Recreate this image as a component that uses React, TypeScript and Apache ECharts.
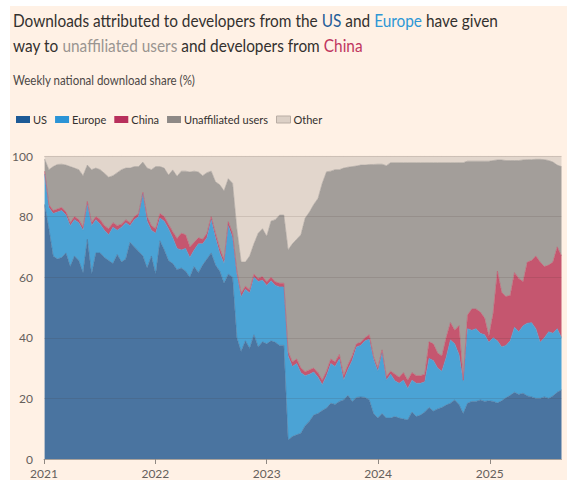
import React, { useEffect, useRef } from "react";
import * as echarts from "echarts";

// Sample dates: every two weeks from 3 Jan 2021
const START_UTC = Date.UTC(2021, 0, 3);
const STEP_DAYS = 14;

const usShare = [84,76,67,66,66.5,68,63.5,67,65.5,61.5, 72.5,61,68,68,66.5,65.5,64.5,67.5,65,66, 71.5,70,68.5,67,63,67,61,72,69,65.5, 64.5,62.5,63,62,60,63.5,61.5,64,66,68, 64,62,58,61,60,40,35.5,39,36.5,41, 37,38.7,38,39,38.5,37.5,37.5,6.3,7.4,8, 8.5,11,12.5,14.5,15,16,16.8,18.4,18,19, 19.5,21,19,20.3,20.5,20.3,19.5,15,13.5,15, 13.5,13.5,14,13.5,13.2,12.9,15.5,14,14.5,15.5, 17,15.8,16.5,17,17.8,18.4,19.5,18,15,18.4, 19,19,19.5,19,19.2,19,18.5,19.2,20.2,21, 22,21.3,21.7,20.8,20.5,20,20,20.5,20,20.8, 22,22.8];
const europeShare = [10,7,14,15.5,15.5,12.5,13.5,12,12.5,14, 11.5,16,11,9.5,9,8.5,12,8,11.5,12, 5.5,9,11.5,20.5,15.5,8.5,13.5,7.5,9.5,10.5, 8.5,7,6,7.5,6.5,5.5,9.5,7,7,11, 9,6,6.5,16,13,21,18,17,18.3,19, 21.6,20.3,19.3,19.8,18.8,19.3,19.3,27.7,23.1,23.5, 20,16.5,15.5,14.2,12,8.5,10.7,13.1,12.5,14, 6.5,8.5,13.5,16.7,17,18.7,20,18,15.5,20, 12.5,14.5,11.8,11.5,12.8,10.4,10.5,11,10.5,10, 16.2,16.7,13.5,12,15.7,20.9,18.5,16.5,10.5,24.6, 23.5,24,22,22,19.3,21,20.5,17.8,17.3,18, 21.5,20.7,22.3,24,24.5,23,18.5,19.5,22,20.7, 21,17.2];
const chinaShare = [1,1,1,1,1,1,1,1,1,1, 1,1,1,1.5,1.5,2,1.5,1.5,1,1, 1,1,1,0.5,1.5,1.5,1.5,1.5,1.5,1.5, 2,3.3,5.5,4.5,3.5,2.5,2,1.5,1.5,1, 1.5,1.5,1.2,1.3,1.5,1,1.2,1,1,1, 1,1.2,1.2,1.2,1.2,1.2,1.2,1.5,1.5,1.5, 1.5,1.3,1.4,1.3,1.5,1.5,1.5,1.5,1.5,1.5, 1.5,1.5,1.5,1,1,1,1.5,0.8,1,1, 1.2,1,2.2,2,2.5,2.7,2.5,2.5,2.5,2.5, 5.5,5.5,5,5,6.5,5.7,4.5,9.5,0.5,4.5, 7,6.5,7,5.5,2,8,23,18,16.1,15, 18,17.6,14.5,20.2,20.5,24,26.5,23.5,22,23.5, 27,27];
const unaffiliatedShare = [4,11.5,14.5,14.7,14.3,15.5,18.5,16,16.5,17, 12,17.5,16,16.5,17.3,17,15.5,17.5,18,17, 18,16.5,15.5,10,16,18.5,20.5,15.5,16,16.2, 20.4,20.5,20.5,21,24.7,23.5,21.7,21,20,15, 17,21,22.8,14.2,16.5,14,10.3,8,11.2,10, 14.9,15.8,15,18.5,20.5,22.5,22.5,33.5,39,39.5, 44,50.7,52.1,54,57.5,65,65.8,62,63.5,61, 68.5,65.3,62.5,58.7,58.5,57,56.2,63.4,67.3,61.3, 69.6,68.8,69.8,70.8,69.3,71.8,69.3,70.3,70.3,69.8, 59.1,59.8,62.8,63.8,57.8,52.8,55.3,53.8,71.8,50.8, 48.8,48.8,49.8,51.8,57.8,50.5,36.7,43.7,44.9,44.5, 37,38.9,40.2,33.8,33.3,31.9,33.9,35.3,34.5,33, 27,29.5];
const otherShare = [1,4.5,3.5,2.8,2.7,3,3.5,4,4.5,6.5, 3,4.5,4,4.5,5.7,7,6.5,5.5,4.5,4, 4,3.5,3.5,2,4,4.5,3.5,3.5,4,6.3, 4.6,6.7,5,5,5.3,5,5.3,6.5,5.5,5, 8.5,9.5,11.5,7.5,9,24,35,35,33,29, 25.5,24,26.5,21.5,21,19.5,19.5,31,29,27.5, 26,20.5,18.5,16,14,9,5.2,5,4.5,4.5, 4,3.7,3.5,3.3,3,3,2.8,2.8,2.7,2.7, 3.2,2.2,2.2,2.2,2.2,2.2,2.2,2.2,2.2,2.2, 2.2,2.2,2.2,2.2,2.2,2.2,2.2,2.2,2.2,1.7, 1.7,1.7,1.7,1.7,1.7,1.5,1.3,1.3,1.5,1.5, 1.5,1.5,1.3,1.2,1.2,1.1,1.1,1.2,1.5,2, 3,3.5];

const yTicks = [20, 40, 60, 80, 100];

const sampleTimes = usShare.map((_, i) => START_UTC + i * STEP_DAYS * 86400000);
const AXIS_START = Date.UTC(2021, 0, 1);
const YEAR_MS = 365 * 86400000;

const FONT = "Lato, 'Noto Sans', sans-serif";

const seriesDefs = [
  { name: "US", data: usShare, color: "#1d5a96", area: "#4a74a0" },
  { name: "Europe", data: europeShare, color: "#2b94d6", area: "#4ba3d5" },
  { name: "China", data: chinaShare, color: "#b8305c", area: "#c5566f" },
  { name: "Unaffiliated users", data: unaffiliatedShare, color: "#8e8986", area: "#a39e9a" },
  { name: "Other", data: otherShare, color: "#dcd0c6", area: "#e2d6cc" },
];

export default function App() {
  const ref = useRef<HTMLDivElement>(null);
  useEffect(() => {
    if (!ref.current) return;
    const chart = echarts.init(ref.current, null, { renderer: "svg" });
    const rich = {
      t: { fill: "#33302e", fontSize: 17, fontFamily: FONT },
      us: { fill: "#245d98", fontSize: 17, fontFamily: FONT },
      eu: { fill: "#2e97d5", fontSize: 17, fontFamily: FONT },
      un: { fill: "#9a9591", fontSize: 17, fontFamily: FONT },
      cn: { fill: "#c0365f", fontSize: 17, fontFamily: FONT },
    };
    const option: any = {
      animation: false,
      textStyle: { fontFamily: FONT },
      graphic: [
        {
          type: "text", x: 13, y: 20, scaleX: 0.905, silent: true,
          style: {
            text: "{t|Downloads attributed to developers from the }{us|US}{t| and }{eu|Europe}{t| have given}",
            rich, verticalAlign: "middle", align: "left",
          },
        },
        {
          type: "text", x: 13, y: 45, scaleX: 0.905, silent: true,
          style: {
            text: "{t|way to }{un|unaffiliated users}{t| and developers from }{cn|China}",
            rich, verticalAlign: "middle", align: "left",
          },
        },
        {
          type: "text", x: 13, y: 80, scaleX: 0.92, silent: true,
          style: {
            text: "Weekly national download share (%)",
            fill: "#4d4845", fontSize: 12.5, fontFamily: FONT, verticalAlign: "middle", align: "left",
          },
        },
      ],
      legend: {
        left: 11, top: 109, icon: "rect", itemWidth: 14, itemHeight: 7, itemGap: 8,
        selectedMode: false,
        itemStyle: { borderWidth: 0 },
        textStyle: { color: "#33302e", fontSize: 11, fontFamily: FONT, padding: [0, 0, 0, -2] },
        data: seriesDefs.map((s) => ({
          name: s.name,
          itemStyle: s.name === "Other"
            ? { color: s.color, borderColor: "#b9ada4", borderWidth: 1 }
            : { color: s.color, borderWidth: 0 },
        })),
      },
      grid: { left: 44, right: 13.5, top: 156, bottom: 21, containLabel: false },
      xAxis: {
        type: "time", min: AXIS_START, max: sampleTimes[sampleTimes.length - 1],
        minInterval: YEAR_MS, maxInterval: YEAR_MS + 86400000,
        axisLine: { show: true, lineStyle: { color: "#aaa29b", width: 1 } },
        axisTick: { show: true, length: 5, lineStyle: { color: "#8f8882" } },
        axisLabel: {
          formatter: (v: number) => String(new Date(v).getUTCFullYear()),
          color: "#66605c", fontSize: 12, margin: 8, fontFamily: FONT,
          showMinLabel: true, showMaxLabel: false,
        },
        splitLine: { show: false },
      },
      yAxis: {
        type: "value", min: 0, max: 100, interval: 20,
        axisLine: { show: false }, axisTick: { show: false },
        axisLabel: { color: "#66605c", fontSize: 12, margin: 11, fontFamily: FONT },
        splitLine: { show: false },
      },
      series: seriesDefs.map((s, k) => ({
        name: s.name, type: "line", stack: "share", symbol: "none", showSymbol: false,
        silent: true, color: s.color,
        lineStyle: { width: 0.6, color: s.area },
        areaStyle: { color: s.area, opacity: 1 },
        emphasis: { disabled: true },
        data: s.data.map((v, i) => [sampleTimes[i], v]),
        markLine: k === seriesDefs.length - 1 ? {
          silent: true, symbol: "none", label: { show: false },
          lineStyle: { color: "rgba(70,50,40,0.13)", width: 1, type: "solid" },
          data: yTicks.map((y) => ({ yAxis: y })),
        } : undefined,
      })),
    };
    chart.setOption(option);
    return () => chart.dispose();
  }, []);
  return (
    <div style={{ position: "absolute", left: 0, top: 0, width: 575, height: 480, background: "#ffffff" }}>
      <div style={{ position: "absolute", left: 10, top: 6, width: 557, height: 474, background: "#fff1e5" }} />
      <div ref={ref} style={{ position: "absolute", left: 0, top: 0, width: 575, height: 480 }} />
    </div>
  );
}
